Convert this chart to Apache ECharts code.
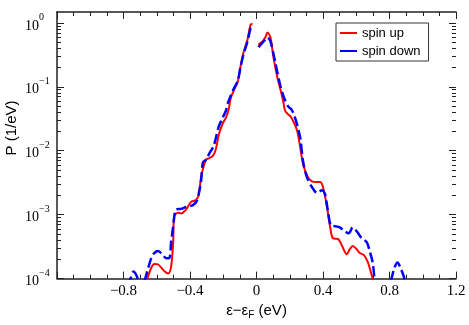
<!DOCTYPE html>
<html>
<head>
<meta charset="utf-8">
<script src="https://cdn.jsdelivr.net/npm/echarts@6/dist/echarts.min.js"></script>
<style>html,body{margin:0;padding:0;background:#fff}#c{width:469px;height:325px}</style>
</head>
<body>
<div id="c"></div>
<script>
// Energies (eV) and log10 of P (1/eV); null marks the gap at E = 0
var upE = [-0.687,-0.657,-0.633,-0.615,-0.591,-0.555,-0.531,-0.513,-0.501,-0.496,-0.472,-0.454,-0.424,-0.394,-0.364,-0.346,-0.334,-0.304,-0.287,-0.263,-0.245,-0.227,-0.203,-0.185,-0.167,-0.155,-0.137,-0.113,-0.096,-0.078,-0.054,-0.036,-0.024,-0.006,
  0.012,0.036,0.054,0.066,0.084,0.101,0.125,0.143,0.161,0.173,0.203,0.221,0.245,0.263,0.281,0.310,0.334,0.358,0.382,0.400,0.424,0.442,0.460,0.490,0.513,0.543,0.561,0.579,0.603,0.621,0.645,0.669,0.699,0.716];
var upLogP = [-4.18,-4.0,-3.83,-3.77,-3.78,-3.88,-3.92,-3.80,-3.42,-3.03,-2.97,-2.98,-2.92,-2.80,-2.77,-2.68,-2.42,-2.14,-2.12,-2.08,-1.98,-1.75,-1.57,-1.49,-1.35,-1.18,-1.06,-0.92,-0.68,-0.46,-0.26,-0.03,-0.015,null,
  -0.34,-0.29,-0.22,-0.15,-0.23,-0.52,-0.85,-1.03,-1.23,-1.38,-1.46,-1.54,-1.69,-1.95,-2.22,-2.42,-2.48,-2.49,-2.49,-2.57,-2.88,-3.18,-3.37,-3.38,-3.48,-3.62,-3.54,-3.49,-3.54,-3.60,-3.63,-3.74,-4.0,-4.14];
var downE = [-0.776,-0.758,-0.740,-0.722,-0.704,-0.687,-0.669,-0.651,-0.633,-0.615,-0.591,-0.567,-0.543,-0.525,-0.513,-0.501,-0.484,-0.454,-0.424,-0.382,-0.358,-0.346,-0.334,-0.322,-0.304,-0.281,-0.257,-0.227,-0.203,-0.185,-0.173,-0.155,-0.137,-0.113,-0.096,-0.078,-0.054,-0.036,-0.024,-0.006,
  0.012,0.036,0.054,0.066,0.084,0.113,0.143,0.167,0.191,0.209,0.227,0.245,0.263,0.281,0.304,0.334,0.364,0.394,0.412,0.430,0.448,0.472,0.501,0.531,0.555,0.579,0.603,0.633,0.663,0.681,0.699,0.710,0.722,
  0.800,0.812,0.830,0.848,0.866,0.884,0.896];
var downLogP = [-4.11,-4.0,-3.89,-3.95,-4.08,-4.15,-4.0,-3.83,-3.68,-3.60,-3.57,-3.62,-3.68,-3.68,-3.42,-3.18,-2.92,-2.91,-2.88,-2.85,-2.78,-2.65,-2.49,-2.18,-2.14,-2.03,-1.92,-1.62,-1.48,-1.38,-1.26,-1.14,-1.03,-0.91,-0.69,-0.49,-0.29,-0.09,-0.06,null,
  -0.38,-0.31,-0.26,-0.23,-0.29,-0.62,-0.98,-1.18,-1.31,-1.35,-1.45,-1.60,-1.80,-2.18,-2.42,-2.57,-2.66,-2.62,-2.68,-2.95,-3.17,-3.18,-3.20,-3.26,-3.29,-3.20,-3.26,-3.37,-3.43,-3.57,-3.75,-4.0,-4.14,
  -4.14,-4.0,-3.83,-3.75,-3.83,-3.95,-4.06];
var xTicks = [-1.2, 1.2, 0.4];
var yDecades = [-4, -3, -2, -1, 0];
var seriesNames = ['spin up', 'spin down'];

function pairs(xs, ys) { return xs.map(function (x, i) { return [x, ys[i]]; }); }
var minorY = [];
yDecades.forEach(function (d) { for (var k = 2; k <= 9; k++) { var v = d + Math.log10(k); if (v < 0.17) minorY.push(v); } });

var AX = '#222';
function yAx(pos, vals, len, label) {
  return {
    type: 'value', min: -4, max: 0.17, position: pos,
    axisLine: { show: label !== null, onZero: false, lineStyle: { color: AX, width: 1.5 } },
    axisTick: { show: true, inside: true, length: len, customValues: vals, lineStyle: { color: AX, width: 1 } },
    axisLabel: label || { show: false },
    splitLine: { show: false }
  };
}
function fmtExp(v) { return '{b|10}{s|' + (v < 0 ? '\u2212' + (-v) : v) + '}'; }

var chart = echarts.init(document.getElementById('c'), null, { renderer: 'canvas' });
chart.setOption({
  animation: false,
  backgroundColor: '#fff',
  grid: { left: 57, right: 13, top: 12, bottom: 42 },
  xAxis: [{
    type: 'value', min: xTicks[0], max: xTicks[1], interval: xTicks[2], position: 'bottom',
    axisLine: { onZero: false, lineStyle: { color: AX, width: 1.5 } },
    axisTick: { inside: true, length: 7, lineStyle: { color: AX } },
    minorTick: { show: true, splitNumber: 4, length: 4, lineStyle: { color: AX } },
    splitLine: { show: false },
    axisLabel: {
      margin: 5, color: '#000', fontFamily: 'Liberation Serif', fontSize: 15,
      formatter: function (v) { if (Math.abs(v + 1.2) < 1e-9) return ''; var s = String(Math.round(Math.abs(v) * 10) / 10); return v < 0 ? '\u2212' + s : s; }
    },
    name: '\u03b5\u2212\u03b5{sub|F} (eV)', nameLocation: 'middle', nameGap: 21,
    nameTextStyle: { color: '#000', fontFamily: 'Liberation Sans', fontSize: 15,
      rich: { sub: { fontFamily: 'Liberation Sans', fontSize: 10, padding: [8, 0, 0, 0] } } }
  }, {
    type: 'value', min: xTicks[0], max: xTicks[1], interval: xTicks[2], position: 'top',
    axisLine: { onZero: false, lineStyle: { color: AX, width: 1.5 } },
    axisTick: { inside: true, length: 7, lineStyle: { color: AX } },
    minorTick: { show: true, splitNumber: 4, length: 4, lineStyle: { color: AX } },
    splitLine: { show: false }, axisLabel: { show: false }
  }],
  yAxis: [
    yAx('left', yDecades, 7, {
      customValues: yDecades, align: 'left', margin: 32, color: '#000',
      formatter: fmtExp,
      rich: {
        b: { fontFamily: 'Liberation Serif', fontSize: 14, color: '#000', lineHeight: 20, verticalAlign: 'bottom' },
        s: { fontFamily: 'Liberation Serif', fontSize: 10, color: '#000', lineHeight: 20, verticalAlign: 'top' }
      }
    }),
    yAx('left', minorY, 4, null),
    yAx('right', yDecades, 7, null),
    yAx('right', minorY, 4, null)
  ],
  legend: {
    left: 336, top: 23, orient: 'vertical', padding: [2, 8, 2, 4], itemGap: 2,
    borderColor: '#333', borderWidth: 1, backgroundColor: '#fff',
    icon: 'rect', itemWidth: 17, itemHeight: 2,
    textStyle: { fontFamily: 'Liberation Sans', fontSize: 13, color: '#000', lineHeight: 16 },
    data: seriesNames
  },
  graphic: [{
    type: 'text', x: 12, y: 128, rotation: Math.PI / 2,
    style: { text: 'P (1/eV)', fontFamily: 'Liberation Sans', fontSize: 15, fill: '#000', align: 'center', verticalAlign: 'middle' }
  }],
  series: [{
    name: seriesNames[0], type: 'line', xAxisIndex: 0, yAxisIndex: 0,
    data: pairs(upE, upLogP), showSymbol: false, smooth: 0.3, connectNulls: false,
    itemStyle: { color: '#ff0000' }, lineStyle: { color: '#ff0000', width: 2 }, z: 3
  }, {
    name: seriesNames[1], type: 'line', xAxisIndex: 0, yAxisIndex: 0,
    data: pairs(downE, downLogP), showSymbol: false, smooth: 0.3, connectNulls: false,
    itemStyle: { color: '#0000ff' }, lineStyle: { color: '#0000ff', width: 2.5, type: [10, 4] }, z: 4
  }]
});
</script>
</body>
</html>
